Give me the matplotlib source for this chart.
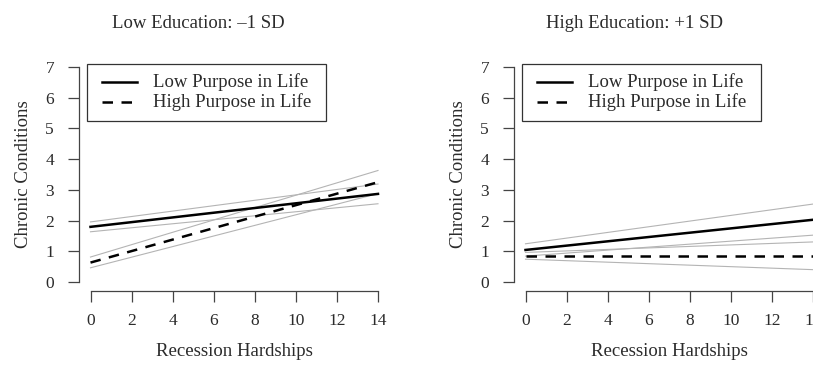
import matplotlib
matplotlib.use("Agg")
import matplotlib.pyplot as plt
from matplotlib.patches import Rectangle

plt.rcParams["font.family"] = ["Liberation Serif", "DejaVu Serif"]

INK = "#2b2b2b"
GRAY = "#b4b4b4"

# recession hardships: fitted lines only need the two ends
x_ends = [0, 14]

# Low education (-1 SD)
low_ed_lowpurp = [1.80, 2.87]
low_ed_lowpurp_lo = [1.64, 2.55]
low_ed_lowpurp_hi = [1.96, 3.19]
low_ed_highpurp = [0.64, 3.25]
low_ed_highpurp_lo = [0.47, 2.88]
low_ed_highpurp_hi = [0.82, 3.63]

# High education (+1 SD)
high_ed_lowpurp = [1.05, 2.03]
high_ed_lowpurp_lo = [0.85, 1.53]
high_ed_lowpurp_hi = [1.25, 2.54]
high_ed_highpurp = [0.86, 0.86]
high_ed_highpurp_lo = [0.75, 0.41]
high_ed_highpurp_hi = [0.97, 1.31]

titles = ["Low Education: \u20131 SD", "High Education: +1 SD"]
title_x = [198, 634]
series_labels = ["Low Purpose in Life", "High Purpose in Life"]
x_ticks = list(range(0, 15, 2))
y_ticks = list(range(0, 8))

W, H = 813, 365
AX_W, AX_H = 310.5, 232.8
AX_TOP = 58.1
DASH = (4.2, 3.4)
fig = plt.figure(figsize=(W / 100, H / 100), dpi=100)

panels = [
    (low_ed_lowpurp, low_ed_lowpurp_lo, low_ed_lowpurp_hi,
     low_ed_highpurp, low_ed_highpurp_lo, low_ed_highpurp_hi),
    (high_ed_lowpurp, high_ed_lowpurp_lo, high_ed_lowpurp_hi,
     high_ed_highpurp, high_ed_highpurp_lo, high_ed_highpurp_hi),
]
lefts = [79, 514]


def px(dx, dy):
    """pixel offset from the axes top-left corner -> axes fraction"""
    return dx / AX_W, 1 - dy / AX_H


for i, (lp, lp_lo, lp_hi, hp, hp_lo, hp_hi) in enumerate(panels):
    ax = fig.add_axes([lefts[i] / W, 1 - (AX_TOP + AX_H) / H, AX_W / W, AX_H / H])
    for band in (lp_lo, lp_hi, hp_lo, hp_hi):
        ax.plot(x_ends, band, color=GRAY, lw=0.8, zorder=1)
    ax.plot(x_ends, lp, color="black", lw=1.8, zorder=3)
    ax.plot(x_ends, hp, color="black", lw=1.8, dashes=DASH, zorder=3)

    ax.set_xlim(-0.56, 14.56)
    ax.set_ylim(-0.28, 7.28)
    ax.set_xticks(x_ticks)
    ax.set_yticks(y_ticks)
    ax.spines[["top", "right"]].set_visible(False)
    ax.spines["left"].set_bounds(0, 7)
    ax.spines["bottom"].set_bounds(0, 14)
    for s in ("left", "bottom"):
        ax.spines[s].set_color("#444444")
        ax.spines[s].set_linewidth(0.9)
    ax.tick_params(direction="out", length=8, width=0.9, color="#444444",
                   labelsize=12.5, labelcolor=INK)
    ax.tick_params(axis="y", pad=10)
    ax.tick_params(axis="x", pad=8)

    ax.set_xlabel("Recession Hardships", fontsize=13.5, color=INK)
    ax.xaxis.set_label_coords(0.5, 1 - (351 - AX_TOP) / AX_H)
    ax.xaxis.label.set_va("center")
    ax.set_ylabel("Chronic Conditions", fontsize=13.5, color=INK)
    ax.yaxis.set_label_coords(-56 / AX_W, 0.5)
    ax.yaxis.label.set_va("center")

    # legend box, drawn R-style
    bx, by, bw, bh = 8, 6, 239, 57
    x0, y0 = px(bx, by + bh)
    ax.add_patch(Rectangle((x0, y0), bw / AX_W, bh / AX_H, transform=ax.transAxes,
                           fill=False, edgecolor="#333333", lw=0.9, zorder=4))
    for k, lab in enumerate(series_labels):
        ry = by + 18.3 + 20 * k
        hx0, hy = px(bx + 14.7, ry)
        hx1, _ = px(bx + 49.7, ry)
        kw = {"dashes": DASH} if k == 1 else {}
        ax.plot([hx0, hx1], [hy, hy], transform=ax.transAxes, color="black",
                lw=1.8, clip_on=False, zorder=4, **kw)
        tx, ty = px(bx + 66, ry)
        ax.text(tx, ty, lab, transform=ax.transAxes, ha="left", va="center",
                fontsize=13.5, color=INK)

    fig.text(title_x[i] / W, 1 - 23 / H, titles[i], ha="center", va="center",
             fontsize=13.5, color=INK)

fig.savefig("out.png", dpi=100, facecolor="white")
